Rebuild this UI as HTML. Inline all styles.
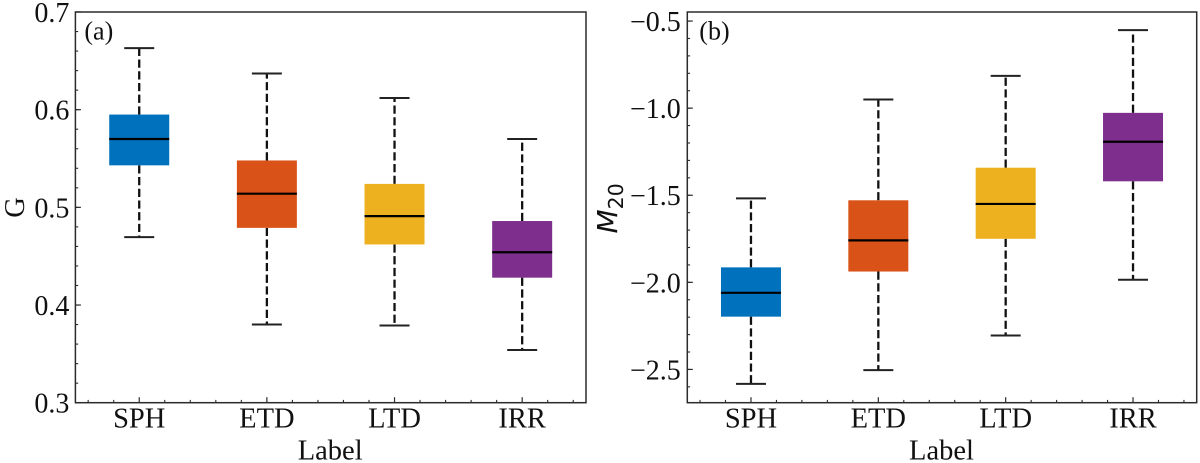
<!DOCTYPE html>
<html lang="en">
<head>
<meta charset="utf-8">
<title>Box plots of G and M20 by morphological label</title>
<style>
html,body{margin:0;padding:0;background:#fff;}
svg{display:block;font-family:"Liberation Serif",serif;}
text{fill:#111;}
</style>
</head>
<body>
<svg id="figure" xmlns="http://www.w3.org/2000/svg" width="1200" height="463" viewBox="0 0 1200 463"></svg>
<script>
// Shared categories and colours
const categories = ['SPH', 'ETD', 'LTD', 'IRR'];
const seriesColors = ['#0072BD', '#D95319', '#EDB120', '#7E2F8E'];

// Panel (a): G
const gWhiskerHigh = [0.663, 0.637, 0.612, 0.570];
const gQ3 = [0.595, 0.548, 0.524, 0.486];
const gMedian = [0.570, 0.514, 0.491, 0.454];
const gQ1 = [0.543, 0.479, 0.462, 0.428];
const gWhiskerLow = [0.4695, 0.380, 0.379, 0.354];
const gTickValues = [0.3, 0.4, 0.5, 0.6, 0.7];
const gTickLabels = ['0.3', '0.4', '0.5', '0.6', '0.7'];

// Panel (b): M20
const mWhiskerHigh = [-1.518, -0.950, -0.815, -0.552];
const mQ3 = [-1.914, -1.529, -1.342, -1.027];
const mMedian = [-2.060, -1.759, -1.550, -1.193];
const mQ1 = [-2.197, -1.938, -1.750, -1.420];
const mWhiskerLow = [-2.583, -2.504, -2.305, -1.985];
const mTickValues = [-2.5, -2.0, -1.5, -1.0, -0.5];
const mTickLabels = ['\u22122.5', '\u22122.0', '\u22121.5', '\u22121.0', '\u22120.5'];

const svg = document.getElementById('figure');
const NS = 'http://www.w3.org/2000/svg';
const INK = '#2b2b2b';

function add(parent, tag, attrs, content) {
  const el = document.createElementNS(NS, tag);
  for (const k in attrs) el.setAttribute(k, attrs[k]);
  if (content !== undefined) el.textContent = content;
  parent.appendChild(el);
  return el;
}

function drawPanel(p) {
  const x = v => p.left + (v - 0.5) / 4 * (p.right - p.left);
  const y = v => p.bottom - (v - p.yMin) / (p.yMax - p.yMin) * (p.bottom - p.top);

  const g = add(svg, 'g', {});
  
  

  // Minor and major y ticks
  const yMinorCount = Math.round((p.yMax - p.yMin) / p.yMinorStep) + 2;
  const yStart = Math.ceil(p.yMin / p.yMinorStep - 1e-6);
  for (let i = 0; i < yMinorCount; i++) {
    const v = (yStart + i) * p.yMinorStep;
    if (v > p.yMax + 1e-6) break;
    const t = add(svg, 'line', {x1: p.left, x2: p.left + 2.8, y1: y(v), y2: y(v), stroke: INK, 'stroke-width': 1.1});
    
    
  }
  p.yTicks.forEach((v, i) => {
    const t = add(svg, 'line', {x1: p.left, x2: p.left + 5.5, y1: y(v), y2: y(v), stroke: INK, 'stroke-width': 1.2});
    
    
    const l = add(svg, 'text', {x: p.left - p.yLabelGap, y: y(v) + 10, 'text-anchor': 'end', 'font-size': 28}, p.yLabels[i]);
    
    
  });

  // Minor x ticks every 0.2 units
  for (let k = 3; k <= 22; k++) {
    const v = k * 0.2;
    if (k % 5 === 0) continue;
    const t = add(svg, 'line', {x1: x(v), x2: x(v), y1: p.bottom, y2: p.bottom - 2.8, stroke: INK, 'stroke-width': 1.1});
    
    
  }

  // Boxes
  categories.forEach((c, i) => {
    const cx = x(i + 1);
    const hw = 30;
    const capW = 15;
    const wh1 = add(svg, 'line', {x1: cx, x2: cx, y1: y(p.q3[i]), y2: y(p.hi[i]), stroke: '#111', 'stroke-width': 2.3, 'stroke-dasharray': '8.2 3.5'});
    
    
    const wh2 = add(svg, 'line', {x1: cx, x2: cx, y1: y(p.q1[i]), y2: y(p.lo[i]), stroke: '#111', 'stroke-width': 2.3, 'stroke-dasharray': '8.2 3.5'});
    
    
    const cap1 = add(svg, 'line', {x1: cx - capW, x2: cx + capW, y1: y(p.hi[i]), y2: y(p.hi[i]), stroke: '#222', 'stroke-width': 2});
    
    
    const cap2 = add(svg, 'line', {x1: cx - capW, x2: cx + capW, y1: y(p.lo[i]), y2: y(p.lo[i]), stroke: '#222', 'stroke-width': 2});
    
    
    const box = add(svg, 'rect', {x: cx - hw, y: y(p.q3[i]), width: hw * 2, height: y(p.q1[i]) - y(p.q3[i]), fill: seriesColors[i]});
    
    
    const med = add(svg, 'line', {x1: cx - hw, x2: cx + hw, y1: y(p.med[i]), y2: y(p.med[i]), stroke: '#000', 'stroke-width': 2.2});
    
    
    const t = add(svg, 'line', {x1: cx, x2: cx, y1: p.bottom, y2: p.bottom - 5.5, stroke: INK, 'stroke-width': 1.2});
    
    
    const l = add(svg, 'text', {x: cx, y: 427.5, 'text-anchor': 'middle', 'font-size': 28.5}, c);
    
    
  });

  // Frame
  const frame = add(svg, 'rect', {x: p.left, y: p.top, width: p.right - p.left, height: p.bottom - p.top, fill: 'none', stroke: INK, 'stroke-width': 1.5});
  
  

  // Panel tag and x title
  const tag = add(svg, 'text', {x: p.left + p.tagDx, y: 39.5, 'font-size': 26}, p.tag);
  
  
  const xt = add(svg, 'text', {x: (p.left + p.right) / 2 - 0.5, y: 459.5, 'text-anchor': 'middle', 'font-size': 28.5}, 'Label');
  
  
}

drawPanel({
  id: 'g', tag: '(a)', left: 75.4, right: 586, top: 12, bottom: 402.7,
  yMin: 0.3, yMax: 0.7, yMinorStep: 0.02, yTicks: gTickValues, yLabels: gTickLabels, yLabelGap: 6, tagDx: 9,
  hi: gWhiskerHigh, q3: gQ3, med: gMedian, q1: gQ1, lo: gWhiskerLow
});
drawPanel({
  id: 'm20', tag: '(b)', left: 687.3, right: 1196.7, top: 12, bottom: 402.7,
  yMin: -2.691, yMax: -0.448, yMinorStep: 0.1, yTicks: mTickValues, yLabels: mTickLabels, yLabelGap: 6.5, tagDx: 12,
  hi: mWhiskerHigh, q3: mQ3, med: mMedian, q1: mQ1, lo: mWhiskerLow
});

// Y-axis titles
const gTitle = add(svg, 'text', {transform: 'translate(24 207.5) rotate(-90)', 'text-anchor': 'middle', 'font-size': 28.5}, 'G');



const mTitle = add(svg, 'text', {transform: 'translate(617 233.5) rotate(-90)', 'font-family': '"DejaVu Sans",sans-serif'});


add(mTitle, 'tspan', {'font-size': 28, 'font-style': 'italic'}, 'M');
add(mTitle, 'tspan', {'font-size': 20.5, dy: 6}, '20');
</script>
</body>
</html>
